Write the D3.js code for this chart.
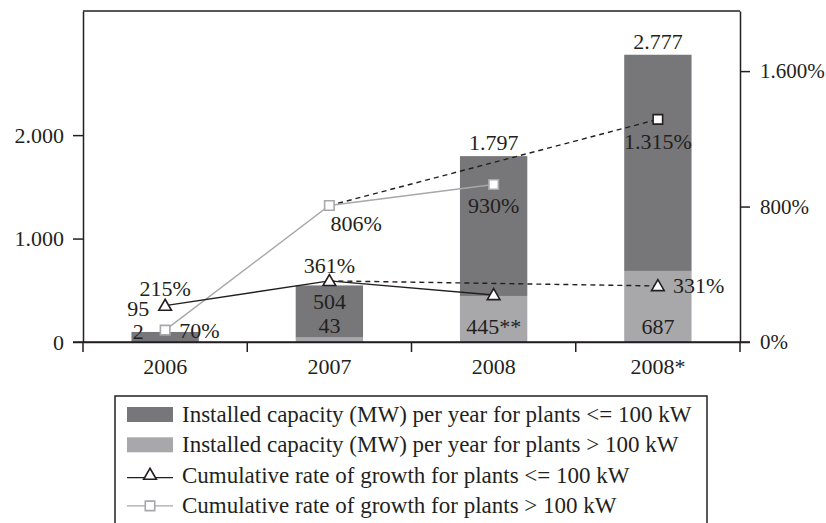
<!DOCTYPE html>
<html>
<head>
<meta charset="utf-8">
<script src="https://cdn.jsdelivr.net/npm/d3@7"></script>
<style>
  body { margin: 0; background: #fff; }
  svg text { font-family: "Liberation Serif", "Times New Roman", serif; fill: #231f20; }
</style>
</head>
<body>
<div id="chart"></div>
<script>
// Data
const years = ["2006", "2007", "2008", "2008*"];
const smallPlants = [95, 504, 1352, 2090];   // MW per year, plants <= 100 kW (dark)
const largePlants = [2, 43, 445, 687];       // MW per year, plants > 100 kW (light)
const smallLabels = ["95", "504", null, null];
const largeLabels = ["2", "43", "445**", "687"];
const totalLabels = [null, null, "1.797", "2.777"];

const growthSmall = [215, 361, 278];          // cumulative growth, plants <= 100 kW
const growthSmallLabels = ["215%", "361%", null];
const growthLarge = [70, 806, 930];           // cumulative growth, plants > 100 kW
const growthLargeLabels = ["70%", "806%", "930%"];
const forecastSmall = { year: "2008*", value: 331, label: "331%" };
const forecastLarge = { year: "2008*", value: 1315, label: "1.315%" };

const leftTicks = [0, 1000, 2000];
const rightTicks = [0, 800, 1600];

const legendItems = [
  "Installed capacity (MW) per year for plants <= 100 kW",
  "Installed capacity (MW) per year for plants > 100 kW",
  "Cumulative rate of growth for plants <= 100 kW",
  "Cumulative rate of growth for plants > 100 kW"
];

const darkGrey = "#77777a";
const lightGrey = "#a8a8ab";
const ink = "#231f20";
const fontSize = 22;

const width = 826, height = 523;
const plot = { left: 83, right: 740, top: 11, bottom: 342 };

const euro = d3.formatLocale({ decimal: ",", thousands: ".", grouping: [3], currency: ["", "€"] });
const fmt = euro.format(",d");

const svg = d3.select("#chart").append("svg")
  .attr("width", width).attr("height", height);

const x = d3.scaleBand().domain(years).range([plot.left, plot.right])
  .paddingInner(0.59).paddingOuter(0.295);
const xc = d => x(d) + x.bandwidth() / 2;
const y = d3.scaleLinear().domain([0, 3200]).range([plot.bottom, plot.top]);
const y2 = d3.scaleLinear().domain([0, 1955]).range([plot.bottom, plot.top]);

// Bars: light part at the bottom, dark part stacked on top
const stackData = years.map((yr, i) => ({ year: yr, large: largePlants[i], small: smallPlants[i] }));
const series = d3.stack().keys(["large", "small"])(stackData);
const barColors = { large: lightGrey, small: darkGrey };

svg.append("g").selectAll("g")
  .data(series)
  .join("g")
    .attr("fill", s => barColors[s.key])
  .selectAll("rect")
  .data(s => s)
  .join("rect")
    .attr("x", d => x(d.data.year))
    .attr("width", x.bandwidth())
    .attr("y", d => y(d[1]))
    .attr("height", d => y(d[0]) - y(d[1]));

// Frame: top edge
svg.append("line").attr("x1", plot.left).attr("x2", plot.right).attr("y1", plot.top).attr("y2", plot.top)
  .attr("stroke", ink).attr("stroke-width", 1.5);

// Left axis
const leftAxis = svg.append("g").attr("transform", `translate(${plot.left},0)`)
  .call(d3.axisLeft(y).tickValues(leftTicks).tickFormat(fmt).tickSize(10).tickSizeOuter(0).tickPadding(9));
// Right axis
const rightAxis = svg.append("g").attr("transform", `translate(${plot.right},0)`)
  .call(d3.axisRight(y2).tickValues(rightTicks).tickFormat(d => fmt(d) + "%").tickSize(10).tickSizeOuter(0).tickPadding(10));
// Bottom axis, labels at band centres
const bottomAxis = svg.append("g").attr("transform", `translate(0,${plot.bottom})`)
  .call(d3.axisBottom(x).tickSize(0).tickSizeOuter(0).tickPadding(16));
// Bottom ticks sit between the categories
const gap = (x.step() - x.bandwidth()) / 2;
const boundaries = years.map(d => x(d) - gap).concat([x(years[years.length - 1]) + x.bandwidth() + gap]);
bottomAxis.selectAll(".sep").data(boundaries).join("line")
  .attr("class", "sep").attr("x1", d => d).attr("x2", d => d).attr("y1", 0).attr("y2", 10);
bottomAxis.append("line").attr("x1", plot.left - 10).attr("x2", plot.right + 10).attr("y1", 0).attr("y2", 0);

[leftAxis, rightAxis, bottomAxis].forEach(g => {
  g.selectAll("path.domain").attr("stroke", ink).attr("stroke-width", 1.5);
  g.selectAll("line").attr("stroke", ink).attr("stroke-width", 1.5);
  g.selectAll("text").attr("font-size", fontSize).attr("fill", ink)
    .style("font-family", '"Liberation Serif", serif');
});
rightAxis.selectAll("text").attr("font-size", 21);

// Lines
const line = d3.line().x(d => d[0]).y(d => d[1]);
const smallPts = growthSmall.map((v, i) => [xc(years[i]), y2(v)]);
const largePts = growthLarge.map((v, i) => [xc(years[i]), y2(v)]);

svg.append("path").attr("d", line([smallPts[1], [xc(forecastSmall.year), y2(forecastSmall.value)]]))
  .attr("fill", "none").attr("stroke", ink).attr("stroke-width", 1.4).attr("stroke-dasharray", "5,4");
svg.append("path").attr("d", line([largePts[1], [xc(forecastLarge.year), y2(forecastLarge.value)]]))
  .attr("fill", "none").attr("stroke", ink).attr("stroke-width", 1.4).attr("stroke-dasharray", "5,4");
svg.append("path").attr("d", line(largePts))
  .attr("fill", "none").attr("stroke", lightGrey).attr("stroke-width", 1.4);
svg.append("path").attr("d", line(smallPts))
  .attr("fill", "none").attr("stroke", ink).attr("stroke-width", 1.4);

const tri = d3.symbol().type(d3.symbolTriangle).size(70);
const sq = d3.symbol().type(d3.symbolSquare).size(90);

svg.append("g").selectAll("path").data(largePts).join("path")
  .attr("d", sq).attr("transform", d => `translate(${d[0]},${d[1]})`)
  .attr("fill", "#fff").attr("stroke", lightGrey).attr("stroke-width", 1.6);
svg.append("path").attr("d", sq)
  .attr("transform", `translate(${xc(forecastLarge.year)},${y2(forecastLarge.value)})`)
  .attr("fill", "#fff").attr("stroke", ink).attr("stroke-width", 1.6);
svg.append("g").selectAll("path").data(smallPts.concat([[xc(forecastSmall.year), y2(forecastSmall.value)]])).join("path")
  .attr("d", tri).attr("transform", d => `translate(${d[0]},${d[1] + 1})`)
  .attr("fill", "#fff").attr("stroke", ink).attr("stroke-width", 1.6);

// Value labels
const labels = svg.append("g").attr("font-size", fontSize);
const addLabel = (text, px, py, anchor) => {
  if (text == null) return;
  labels.append("text").attr("x", px).attr("y", py).attr("text-anchor", anchor).text(text);
};
// bar labels
addLabel(smallLabels[0], xc(years[0]) - 27, y(smallPlants[0] + largePlants[0]) - 16, "middle");
addLabel(largeLabels[0], xc(years[0]) - 27, plot.bottom - 3, "middle");
addLabel(smallLabels[1], xc(years[1]), y(smallPlants[1] + largePlants[1]) + 24, "middle");
addLabel(largeLabels[1], xc(years[1]), plot.bottom - 9, "middle");
[2, 3].forEach(i => {
  addLabel(largeLabels[i], xc(years[i]), plot.bottom - 8, "middle");
  addLabel(totalLabels[i], xc(years[i]), y(smallPlants[i] + largePlants[i]) - 6, "middle");
});
// growth labels
addLabel(growthSmallLabels[0], smallPts[0][0], smallPts[0][1] - 10, "middle");
addLabel(growthSmallLabels[1], smallPts[1][0], smallPts[1][1] - 8, "middle");
addLabel(forecastSmall.label, xc(forecastSmall.year) + 15, y2(forecastSmall.value) + 7, "start");
addLabel(growthLargeLabels[0], largePts[0][0] + 14, largePts[0][1] + 8, "start");
addLabel(growthLargeLabels[1], largePts[1][0] + 1, largePts[1][1] + 25, "start");
addLabel(growthLargeLabels[2], largePts[2][0], largePts[2][1] + 28, "middle");
addLabel(forecastLarge.label, xc(forecastLarge.year), y2(forecastLarge.value) + 30, "middle");

// Legend
const legend = svg.append("g");
legend.append("rect").attr("x", 115).attr("y", 396).attr("width", 592).attr("height", 140)
  .attr("fill", "none").attr("stroke", ink).attr("stroke-width", 1.5);
const rowY = i => 415 + i * 30.3;
legend.selectAll("text").data(legendItems).join("text")
  .attr("x", 182).attr("y", (d, i) => rowY(i) + 7).attr("font-size", 23).text(d => d);
legend.append("rect").attr("x", 127).attr("y", rowY(0) - 8).attr("width", 46).attr("height", 15).attr("fill", darkGrey);
legend.append("rect").attr("x", 127).attr("y", rowY(1) - 8).attr("width", 46).attr("height", 15).attr("fill", lightGrey);
legend.append("line").attr("x1", 127).attr("x2", 173).attr("y1", rowY(2) + 2).attr("y2", rowY(2) + 2)
  .attr("stroke", ink).attr("stroke-width", 1.4);
legend.append("path").attr("d", tri).attr("transform", `translate(150,${rowY(2)})`)
  .attr("fill", "#fff").attr("stroke", ink).attr("stroke-width", 1.6);
legend.append("line").attr("x1", 127).attr("x2", 173).attr("y1", rowY(3)).attr("y2", rowY(3))
  .attr("stroke", lightGrey).attr("stroke-width", 1.4);
legend.append("path").attr("d", sq).attr("transform", `translate(150,${rowY(3)})`)
  .attr("fill", "#fff").attr("stroke", lightGrey).attr("stroke-width", 1.6);
</script>
</body>
</html>
